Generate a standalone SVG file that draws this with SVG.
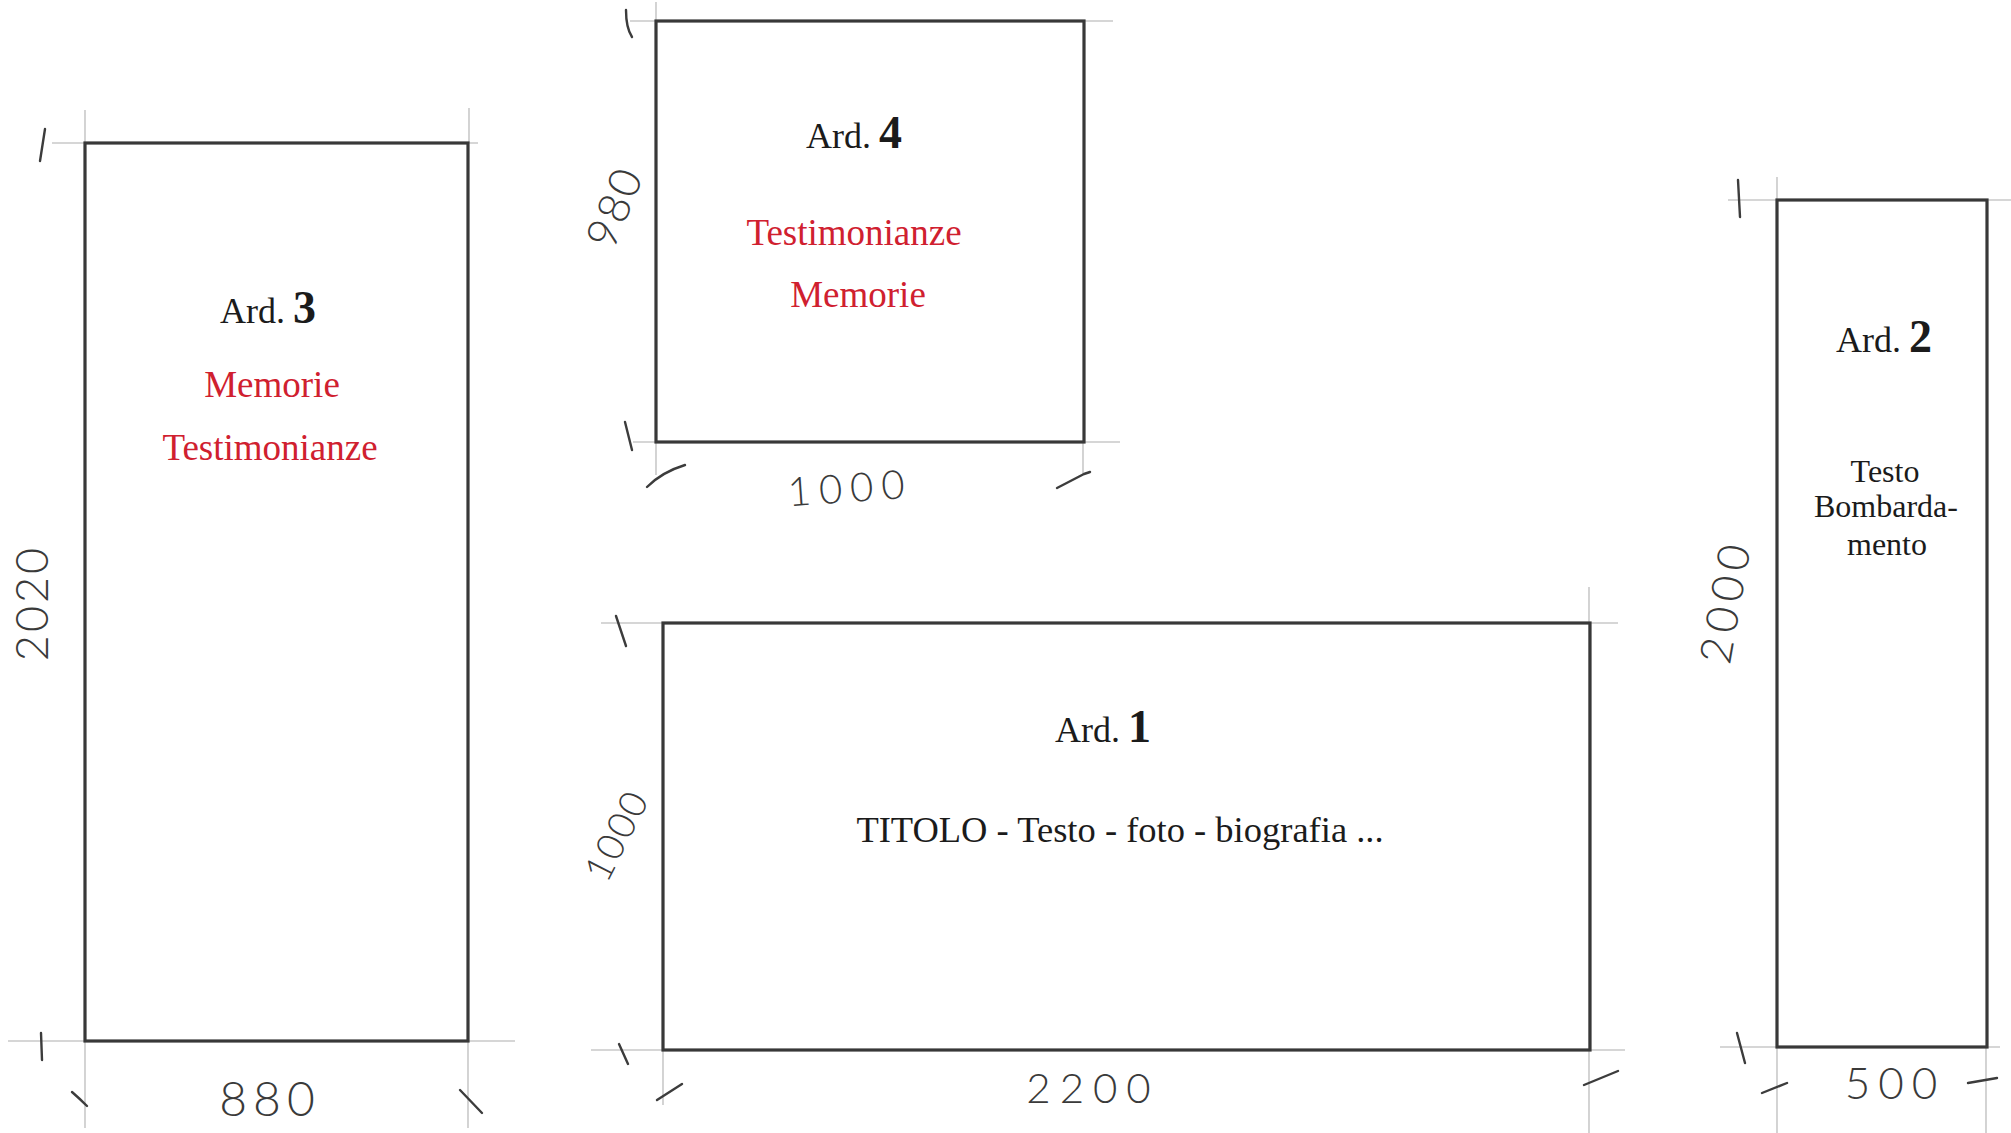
<svg xmlns="http://www.w3.org/2000/svg" width="2011" height="1133" viewBox="0 0 2011 1133">
<style>
.bg{fill:#ffffff}
.panel{fill:none;stroke:#383838;stroke-width:3.2;stroke-linejoin:miter}
.guide{stroke:#c9c9c9;stroke-width:1.6;fill:none}
.tick{stroke:#3c3c3c;stroke-width:2.4;fill:none;stroke-linecap:round;stroke-linejoin:round}
.hand{font-family:Lato,"Open Sans","DejaVu Sans",sans-serif;font-weight:300;fill:#3a3a3a;text-anchor:middle}
.title{font-family:"Liberation Serif","DejaVu Serif",serif;fill:#1b1b1b;text-anchor:middle}
.lbl{font-size:36px}
.num{font-size:46px;font-weight:bold}
.red{font-family:"Liberation Serif","DejaVu Serif",serif;fill:#d0202f;font-size:37px;text-anchor:middle}
.body{font-family:"Liberation Serif","DejaVu Serif",serif;fill:#1b1b1b;text-anchor:middle}
</style>
<rect class="bg" x="0" y="0" width="2011" height="1133"/>

<g id="connectors"></g>

<g id="ard3">
  <g class="guides">
    <line class="guide" x1="52" y1="143" x2="478" y2="143"/>
    <line class="guide" x1="85" y1="110" x2="85" y2="143"/>
    <line class="guide" x1="469" y1="108" x2="469" y2="143"/>
    <line class="guide" x1="8" y1="1041" x2="515" y2="1041"/>
    <line class="guide" x1="85" y1="1041" x2="85" y2="1128"/>
    <line class="guide" x1="468" y1="1041" x2="468" y2="1128"/>
  </g>
  <rect class="panel" x="85" y="143" width="383" height="898"/>
  <path class="tick" d="M45,129 L40,161"/>
  <path class="tick" d="M41,1033 L42,1060"/>
  <path class="tick" d="M72,1092 Q79,1098 87,1106"/>
  <path class="tick" d="M460,1090 L482,1113"/>
  <text class="hand" x="32" y="603" font-size="45" letter-spacing="3" transform="rotate(-90 32 603) translate(0 16)">2020</text>
  <text class="hand" x="270" y="1116" font-size="48" letter-spacing="6">880</text>
  <text class="title" x="268" y="323"><tspan class="lbl">Ard.</tspan><tspan class="num" dx="8">3</tspan></text>
  <text class="red" x="272" y="397">Memorie</text>
  <text class="red" x="270" y="460">Testimonianze</text>
</g>

<g id="ard4">
  <g class="guides">
    <line class="guide" x1="630" y1="21" x2="1113" y2="21"/>
    <line class="guide" x1="656" y1="2" x2="656" y2="21"/>
    <line class="guide" x1="633" y1="442" x2="1120" y2="442"/>
    <line class="guide" x1="656" y1="442" x2="656" y2="475"/>
    <line class="guide" x1="1083" y1="442" x2="1083" y2="475"/>
  </g>
  <rect class="panel" x="656" y="21" width="428" height="421"/>
  <path class="tick" d="M626,10 Q626,28 632,37"/>
  <path class="tick" d="M625,422 L632,450"/>
  <path class="tick" d="M647,487 Q662,472 685,465"/>
  <path class="tick" d="M1057,488 L1084,474 L1090,472"/>
  <text class="hand" x="614" y="207" font-size="44" letter-spacing="2" transform="rotate(-68 614 207) translate(0 16)">980</text>
  <text class="hand" x="850" y="502" font-size="40" letter-spacing="8" transform="rotate(-4 850 487)">1000</text>
  <text class="title" x="854" y="148"><tspan class="lbl">Ard.</tspan><tspan class="num" dx="8">4</tspan></text>
  <text class="red" x="854" y="245">Testimonianze</text>
  <text class="red" x="858" y="307">Memorie</text>
</g>

<g id="ard1">
  <g class="guides">
    <line class="guide" x1="601" y1="623" x2="1618" y2="623"/>
    <line class="guide" x1="1589" y1="587" x2="1589" y2="1133"/>
    <line class="guide" x1="591" y1="1050" x2="1625" y2="1050"/>
    <line class="guide" x1="663" y1="1050" x2="663" y2="1105"/>
  </g>
  <rect class="panel" x="663" y="623" width="927" height="427"/>
  <path class="tick" d="M616,616 L626,646"/>
  <path class="tick" d="M619,1044 L628,1064"/>
  <path class="tick" d="M657,1100 L682,1084"/>
  <path class="tick" d="M1584,1085 L1618,1071"/>
  <text class="hand" x="616" y="835" font-size="38" letter-spacing="2" transform="rotate(-63 616 835) translate(0 14)">1000</text>
  <text class="hand" x="1093" y="1103" font-size="42" letter-spacing="9">2200</text>
  <text class="title" x="1103" y="742"><tspan class="lbl">Ard.</tspan><tspan class="num" dx="8">1</tspan></text>
  <text class="body" x="1120" y="842" font-size="36.5">TITOLO - Testo - foto - biografia ...</text>
</g>

<g id="ard2">
  <g class="guides">
    <line class="guide" x1="1728" y1="200" x2="2011" y2="200"/>
    <line class="guide" x1="1777" y1="177" x2="1777" y2="200"/>
    <line class="guide" x1="1720" y1="1047" x2="2000" y2="1047"/>
    <line class="guide" x1="1777" y1="1047" x2="1777" y2="1133"/>
    <line class="guide" x1="1986" y1="1047" x2="1986" y2="1133"/>
  </g>
  <rect class="panel" x="1777" y="200" width="210" height="847"/>
  <path class="tick" d="M1738,180 L1740,217"/>
  <path class="tick" d="M1737,1033 L1745,1063"/>
  <path class="tick" d="M1762,1093 L1787,1083"/>
  <path class="tick" d="M1968,1083 L1997,1078"/>
  <text class="hand" x="1725" y="601" font-size="44" letter-spacing="6" transform="rotate(-80 1725 601) translate(0 16)">2000</text>
  <text class="hand" x="1895" y="1099" font-size="44" letter-spacing="8">500</text>
  <text class="title" x="1884" y="352"><tspan class="lbl">Ard.</tspan><tspan class="num" dx="8">2</tspan></text>
  <text class="body" x="1885" y="482" font-size="32">Testo</text>
  <text class="body" x="1886" y="517" font-size="32">Bombarda-</text>
  <text class="body" x="1887" y="555" font-size="32">mento</text>
</g>
</svg>
